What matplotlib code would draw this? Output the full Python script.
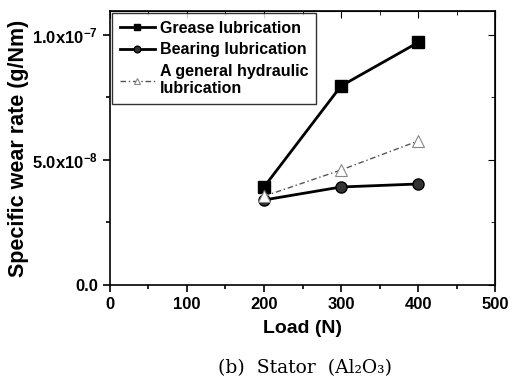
import matplotlib
matplotlib.use("Agg")
import matplotlib.pyplot as plt
from matplotlib.ticker import FixedLocator, MultipleLocator

# wear test results, stator (Al2O3)
load = [200, 300, 400]
grease = [3.92e-8, 7.96e-8, 9.7e-8]
bearing = [3.4e-8, 3.92e-8, 4.04e-8]
hydraulic = [3.55e-8, 4.6e-8, 5.76e-8]

ytick_vals = [0.0, 5.0e-8, 1.0e-7]
ytick_labels = ["0.0", r"5.0x10$^{-8}$", r"1.0x10$^{-7}$"]

plt.rcParams['font.family'] = ['Liberation Sans', 'DejaVu Sans']
plt.rcParams['mathtext.fontset'] = 'custom'
plt.rcParams['mathtext.rm'] = 'Liberation Sans:bold'
plt.rcParams['mathtext.it'] = 'Liberation Sans:bold'
plt.rcParams['mathtext.bf'] = 'Liberation Sans:bold'

fig = plt.figure(figsize=(5.2, 3.86), dpi=100)
ax = fig.add_axes([0.2115, 0.2617, 0.7405, 0.7098])

ax.plot(load, grease, color='black', lw=2, marker='s', ms=8,
        label='Grease lubrication')
ax.plot(load, bearing, color='black', lw=2, marker='o', ms=8,
        markerfacecolor='#333333', markeredgecolor='black',
        label='Bearing lubrication')
ax.plot(load, hydraulic, color='#555555', lw=1, ls=(0, (4, 2, 1, 2)),
        marker='^', ms=8, markerfacecolor='white', markeredgecolor='#888888',
        markeredgewidth=0.8,
        label='A general hydraulic\nlubrication')

ax.set_xlim(0, 500)
ax.set_ylim(0, 1.096e-7)
ax.xaxis.set_major_locator(MultipleLocator(100))
ax.xaxis.set_minor_locator(MultipleLocator(50))
ax.yaxis.set_major_locator(FixedLocator(ytick_vals))
ax.yaxis.set_minor_locator(MultipleLocator(2.5e-8))
ax.set_yticklabels(ytick_labels)

ax.tick_params(which='both', direction='out', top=False, right=False,
               labelsize=12, width=1.2)
ax.tick_params(which='major', length=5)
ax.tick_params(which='minor', length=3)
for lab in ax.get_xticklabels() + ax.get_yticklabels():
    lab.set_fontweight('bold')

# inward ticks on the top and right edges
axt = ax.secondary_xaxis('top')
axt.xaxis.set_major_locator(MultipleLocator(100))
axt.xaxis.set_minor_locator(MultipleLocator(50))
axt.tick_params(which='both', direction='in', labeltop=False)
axt.tick_params(which='major', length=5)
axt.tick_params(which='minor', length=3)
axr = ax.secondary_yaxis('right')
axr.yaxis.set_major_locator(FixedLocator(ytick_vals))
axr.yaxis.set_minor_locator(MultipleLocator(2.5e-8))
axr.tick_params(which='both', direction='in', labelright=False)
axr.tick_params(which='major', length=5)
axr.tick_params(which='minor', length=3)

for s in ax.spines.values():
    s.set_linewidth(1.2)

ax.set_xlabel('Load (N)', fontsize=14, fontweight='bold', labelpad=6)
ax.set_ylabel('Specific wear rate (g/Nm)', fontsize=15.5, fontweight='bold', labelpad=2)

leg = ax.legend(loc='upper left', prop={'weight': 'bold', 'size': 11.5},
                frameon=True, fancybox=False, edgecolor='black',
                borderaxespad=0.15, handlelength=2.2, handletextpad=0.35,
                labelspacing=0.42, borderpad=0.45, markerscale=0.6)
leg.get_frame().set_linewidth(1.0)

fig.text(0.587, 0.047, '(b)  Stator  (Al₂O₃)', family='DejaVu Serif',
         fontsize=13.5, ha='center', va='center')

fig.savefig('out.png', dpi=100)
